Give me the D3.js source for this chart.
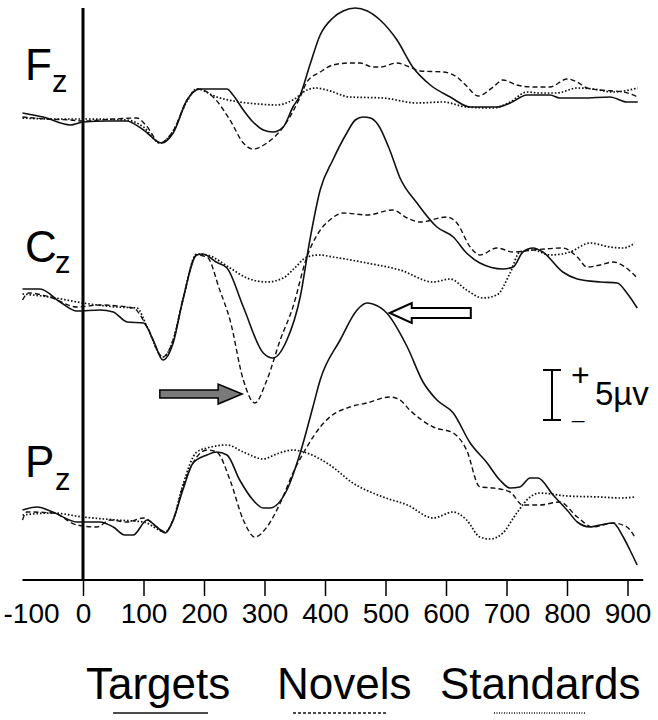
<!DOCTYPE html>
<html>
<head>
<meta charset="utf-8">
<title>ERP waveforms</title>
<script src="https://d3js.org/d3.v7.min.js"></script>
<style>
  body { margin: 0; background: #fff; }
  text { font-family: "Liberation Sans", Arial, Helvetica, sans-serif; fill: #000; }
</style>
</head>
<body>
<div id="chart"></div>
<script>
// time (ms) / amplitude (µV) pairs
var fzTargets = [[-100,0.8],[-66,0.4],[-21,-0.4],[0,-0.1],[40,0],[72,0],[100,-0.9],[130,-2.2],[149,-1.2],[172,2.1],[193,3.2],[238,3.2],[248,2.6],[265,1.1],[281,-0.1],[298,-0.9],[314,-1.1],[331,-0.6],[347,1.4],[359,2.6],[375,5.6],[392,8.6],[413,10.3],[430,11.0],[450,11.3],[470,11.0],[491,10.1],[519,8.1],[545,5.4],[574,3.6],[607,2.4],[640,1.4],[684,1.4],[706,1.8],[734,2.6],[772,2.6],[788,2.3],[826,2.3],[871,2.4],[899,1.9],[917,1.9]];
var fzNovels = [[-100,0.4],[-60,0.2],[-20,0.1],[0,0],[50,0.2],[89,0.3],[105,-0.5],[127,-2.2],[149,-1.0],[172,2.1],[190,3.2],[215,2.4],[243,0.1],[265,-2.2],[281,-2.8],[304,-2.2],[331,-0.6],[359,2.4],[370,3.9],[392,4.9],[413,5.6],[441,5.8],[458,5.8],[479,5.4],[491,5.4],[519,5.8],[540,5.4],[557,5.0],[595,4.9],[618,4.4],[634,3.5],[653,2.5],[678,3.4],[694,4.1],[717,3.6],[744,3.4],[772,3.4],[800,4.2],[817,3.9],[833,3.3],[855,3.1],[893,2.9],[917,2.4]];
var fzStandards = [[-100,0.3],[-50,0.2],[0,0.2],[72,0.1],[100,-0.6],[127,-2.2],[149,-1.0],[172,2.0],[188,3.2],[221,2.4],[259,1.9],[290,1.7],[320,1.6],[347,2.1],[370,3.1],[385,3.3],[403,3.1],[441,2.4],[496,2.3],[552,1.8],[595,1.9],[634,1.4],[678,1.3],[706,1.9],[734,2.9],[755,2.8],[783,2.8],[817,3.3],[843,3.2],[876,2.9],[917,3.3]];

var czTargets = [[-100,2.1],[-71,2.1],[-38,0.8],[-10,-0.1],[28,0],[50,-0.2],[73,-1.2],[100,-1.3],[116,-3.0],[132,-5.0],[149,-3.3],[165,1.0],[188,5.5],[198,5.6],[220,4.8],[238,4.2],[265,0.3],[298,-4.3],[314,-4.8],[337,-3.0],[359,1.3],[375,7.0],[392,12.0],[413,15.0],[436,17.7],[450,19.0],[463,19.3],[475,19.2],[488,18.5],[507,16.0],[524,13.2],[552,10.7],[585,8.3],[612,7.3],[634,5.7],[656,4.7],[694,4.1],[711,4.3],[727,5.8],[744,6.2],[760,5.8],[793,3.8],[817,3.1],[855,2.8],[883,2.7],[899,1.7],[916,0.2]];
var czNovels = [[-100,1.0],[-90,1.7],[-55,1.3],[-10,0.3],[28,0.5],[83,0.2],[106,-1.7],[132,-4.7],[149,-3.0],[165,1.0],[188,5.5],[205,5.3],[226,2.0],[243,-1.0],[265,-7.0],[284,-9.3],[304,-7.0],[326,-3.0],[347,0.3],[370,5.3],[390,7.8],[408,9.0],[430,9.7],[469,9.5],[512,10.0],[536,9.2],[557,8.8],[601,9.3],[618,8.7],[640,6.3],[656,5.5],[684,6.2],[711,5.8],[744,6.0],[793,6.2],[817,5.3],[833,4.3],[855,4.5],[876,4.8],[896,4.3],[916,3.2]];
var czStandards = [[-100,1.6],[-55,1.3],[0,0.7],[56,0.3],[89,0.2],[106,-1.7],[132,-4.7],[149,-3.0],[165,1.0],[188,5.6],[205,5.5],[243,4.2],[271,3.2],[304,2.8],[331,3.2],[350,4.2],[370,5.3],[390,5.5],[413,5.3],[469,4.7],[524,4.0],[579,2.8],[607,3.1],[634,2.0],[661,1.2],[684,1.5],[706,3.7],[722,5.8],[744,6.0],[772,5.5],[805,5.8],[838,6.7],[871,6.3],[893,6.2],[912,6.7]];

var pzTargets = [[-100,1.0],[-76,1.3],[-50,0.8],[-10,-0.2],[28,-0.2],[50,-0.7],[69,-1.5],[83,-1.5],[106,0],[122,-0.7],[136,-1.3],[149,0],[165,3.0],[182,5.7],[205,6.5],[221,6.8],[238,6.5],[259,4.0],[281,2.0],[298,1.2],[309,1.2],[337,3.0],[359,6.7],[380,11.3],[392,14.0],[425,18.0],[453,21.0],[469,21.7],[479,21.6],[502,20.7],[536,17.3],[562,13.8],[585,12.0],[612,10.7],[640,7.7],[668,5.7],[689,4.0],[706,3.2],[722,3.3],[739,4.2],[752,4.2],[777,2.5],[800,1.0],[817,-0.2],[838,-0.7],[855,-0.5],[876,-0.3],[893,-1.7],[904,-3.0],[916,-4.5]];
var pzNovels = [[-100,0],[-93,0.8],[-50,0.7],[-10,-0.5],[23,-0.7],[45,0],[73,-0.2],[100,0.2],[122,-0.7],[136,-1.2],[149,0],[165,3.3],[188,6.3],[205,7.0],[221,6.8],[243,4.0],[265,0],[284,-1.7],[304,-0.7],[326,1.7],[347,4.7],[370,7.3],[392,9.3],[408,10.3],[441,11.3],[469,11.7],[507,12.3],[524,12.0],[540,11.0],[579,9.3],[612,8.7],[634,7.0],[656,3.3],[678,3.2],[706,2.8],[727,1.5],[755,1.5],[788,1.8],[817,0.3],[843,-0.7],[876,-0.3],[899,-0.7],[912,-1.7]];
var pzStandards = [[-100,0.5],[-50,0.7],[0,0.3],[56,0],[100,-0.2],[136,-1.2],[149,0],[165,3.5],[188,6.8],[205,7.2],[238,7.5],[265,6.8],[298,6.1],[320,6.6],[347,7.0],[370,6.7],[408,5.5],[446,3.7],[496,2.3],[536,1.5],[579,0.2],[612,0.8],[634,0],[656,-1.7],[673,-1.9],[694,-1.3],[717,0.7],[739,2.3],[755,2.7],[800,2.4],[855,2.3],[888,2.2],[912,2.3]];

var conditions = ["Targets", "Novels", "Standards"];
var tickValues = [-100, 0, 100, 200, 300, 400, 500, 600, 700, 800, 900];
var tickLabels = ["-100", "0", "100", "200", "300", "400", "500", "600", "700", "800", "900"];
var scaleBarValue = 5; // µV

var width = 658, height = 720;
var svg = d3.select("#chart").append("svg")
    .attr("width", width)
    .attr("height", height);

var x = d3.scaleLinear().domain([-100, 900]).range([22.5, 627.5]);
var axisY = 580;

// 10 px per µV, positive up
function makeY(base) {
    return d3.scaleLinear().domain([0, 10]).range([base, base - 100]);
}

var channels = [
    { letter: "F", base: 121, textY: 80, subX: 52, subY: 92, series: [fzTargets, fzNovels, fzStandards] },
    { letter: "C", base: 310, textY: 262, subX: 55, subY: 273, series: [czTargets, czNovels, czStandards] },
    { letter: "P", base: 520, textY: 477, subX: 55, subY: 490, series: [pzTargets, pzNovels, pzStandards] }
];
channels.forEach(function(c) { c.y = makeY(c.base); });

var styles = {
    Targets:   { width: 1.6, dash: null },
    Novels:    { width: 1.4, dash: "5,3" },
    Standards: { width: 1.7, dash: "1.6,1.9" }
};

// zero line
svg.append("line")
    .attr("x1", x(0)).attr("x2", x(0))
    .attr("y1", 8).attr("y2", axisY)
    .attr("stroke", "#000").attr("stroke-width", 3);

// traces
channels.forEach(function(c) {
    var line = d3.line()
        .x(function(d) { return x(d[0]); })
        .y(function(d) { return c.y(d[1]); })
        .curve(d3.curveMonotoneX);
    c.series.forEach(function(s, i) {
        var st = styles[conditions[i]];
        svg.append("path")
            .datum(s)
            .attr("d", line)
            .attr("fill", "none")
            .attr("stroke", "#111")
            .attr("stroke-width", st.width)
            .attr("stroke-dasharray", st.dash);
    });

    var lab = svg.append("g");
    lab.append("text").attr("x", 25).attr("y", c.textY).attr("font-size", 44).text(c.letter);
    lab.append("text").attr("x", c.subX).attr("y", c.subY).attr("font-size", 31).text("z");
});

// x axis
svg.append("line")
    .attr("x1", x(-100)).attr("x2", x(926))
    .attr("y1", axisY).attr("y2", axisY)
    .attr("stroke", "#000").attr("stroke-width", 2);

var axis = svg.append("g")
    .attr("transform", "translate(0," + axisY + ")")
    .call(d3.axisBottom(x)
        .tickValues(tickValues)
        .tickSize(16)
        .tickSizeOuter(0)
        .tickFormat(function(d, i) { return tickLabels[i]; }));
axis.select(".domain").remove();
axis.attr("font-size", 28).attr("font-family", null);
axis.selectAll(".tick line").attr("stroke", "#000").attr("stroke-width", 1.5);
axis.selectAll(".tick text").attr("y", 43).attr("dy", null).attr("fill", "#000");
axis.selectAll(".tick").filter(function(d) { return d < 0; })
    .each(function() {
        var t = d3.select(this);
        t.select("line").remove();
        t.select("text").attr("text-anchor", "start").attr("x", 3 - x(-100));
    });

// scale bar (5 µV)
var sbY = makeY(420);
var sbX = 552;
var sb = svg.append("g").attr("stroke", "#000").attr("stroke-width", 2);
sb.append("line").attr("x1", sbX).attr("x2", sbX).attr("y1", sbY(0)).attr("y2", sbY(scaleBarValue));
sb.append("line").attr("x1", sbX - 9).attr("x2", sbX + 9).attr("y1", sbY(0)).attr("y2", sbY(0));
sb.append("line").attr("x1", sbX - 9).attr("x2", sbX + 9).attr("y1", sbY(scaleBarValue)).attr("y2", sbY(scaleBarValue));
svg.append("text").attr("x", 571).attr("y", 386).attr("font-size", 32).text("+");
svg.append("text").attr("x", 572).attr("y", 418).attr("font-size", 22).text("_");
svg.append("text").attr("x", 595).attr("y", 405).attr("font-size", 33).text(scaleBarValue + "µv");

// arrows
function arrowPath(tipX, tipY, tailX, shaftH, headH, headL) {
    var dir = tailX > tipX ? 1 : -1;
    var hb = tipX + dir * headL;
    return "M" + tipX + "," + tipY +
        "L" + hb + "," + (tipY - headH) +
        "L" + hb + "," + (tipY - shaftH) +
        "L" + tailX + "," + (tipY - shaftH) +
        "L" + tailX + "," + (tipY + shaftH) +
        "L" + hb + "," + (tipY + shaftH) +
        "L" + hb + "," + (tipY + headH) + "Z";
}
// grey arrow -> novel trough at Cz
svg.append("path")
    .attr("d", arrowPath(x(263), channels[1].y(-8.4), x(127), 4, 10, 24))
    .attr("fill", "#7a7a7a").attr("stroke", "#000").attr("stroke-width", 1.5);
// white arrow -> target peak at Pz
svg.append("path")
    .attr("d", arrowPath(x(507), channels[2].y(20.7), x(641), 5, 10, 22))
    .attr("fill", "#fff").attr("stroke", "#000").attr("stroke-width", 2);

// legend
var legendX = [86, 277, 440];
var lineX = [[113, 208], [293, 388], [494, 586]];
conditions.forEach(function(name, i) {
    svg.append("text").attr("x", legendX[i]).attr("y", 699).attr("font-size", 44).text(name);
    svg.append("line")
        .attr("x1", lineX[i][0]).attr("x2", lineX[i][1])
        .attr("y1", 713).attr("y2", 713)
        .attr("stroke", "#111")
        .attr("stroke-width", name === "Targets" ? 1.6 : 1.3)
        .attr("stroke-dasharray", name === "Novels" ? "3,2" : (name === "Standards" ? "1,1.5" : null));
});
</script>
</body>
</html>
